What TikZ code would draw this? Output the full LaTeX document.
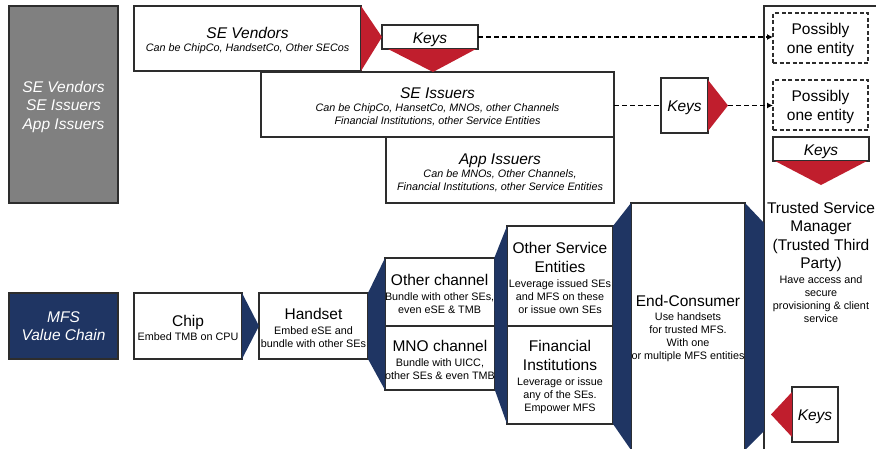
\documentclass[tikz,border=0pt]{standalone}
\usepackage{fontspec}
\setmainfont{Liberation Sans}
\usetikzlibrary{arrows.meta}
\definecolor{darkblue}{RGB}{31,53,99}
\definecolor{keyred}{RGB}{192,30,45}
\definecolor{boxgray}{RGB}{128,128,128}
\definecolor{edgegray}{RGB}{45,45,45}

\newcommand{\hd}{\fontsize{15.5}{18.5}\selectfont}
\newcommand{\sm}{\fontsize{10.8}{13}\selectfont}
% first title line with some air above it
\newcommand{\hdtop}{\hd\rule{0pt}{15.5pt}}

\tikzset{
  box/.style={rectangle, draw=edgegray, line width=1.2pt, fill=white, anchor=north west,
    align=center, inner sep=0pt, outer sep=0pt, font=\sm},
  topbox/.style={box, font=\sm\itshape},
  keybox/.style={box, font=\hd\itshape},
  maybebox/.style={box, dash pattern=on 4pt off 2.5pt, font=\hd},
  keyline/.style={dash pattern=on 5pt off 3pt, line width=1.2pt},
}

\begin{document}
\begin{tikzpicture}[x=1pt, y=-1pt]
    \useasboundingbox (0,0) rectangle (876,448);
    \clip (0,0) rectangle (876,448);

    % left column labels
    \node[box, fill=boxgray, text=white, font=\hd\itshape, minimum width=109pt, minimum height=197pt] (roles) at (9,6)
      {\hdtop SE Vendors\\SE Issuers\\App Issuers};
    \node[box, fill=darkblue, text=white, font=\hd\itshape, minimum width=109pt, minimum height=66pt] (mfs) at (9,293)
      {MFS\\Value Chain};

    % trusted service manager column
    \node[box, minimum width=130pt, minimum height=460pt] (tsm) at (764,6) {};
    \node[font=\hd, align=center, anchor=south, inner sep=0pt] (tsmtext) at (821,272)
      {Trusted Service\\Manager\\(Trusted Third\\Party)};
    \node[font=\sm, align=center, anchor=north, inner sep=0pt] (tsmnote) at (821,275)
      {Have access and\\secure\\provisioning \& client\\service};
    \node[maybebox, minimum width=95pt, minimum height=50pt] (pose1) at (773,13) {\hdtop Possibly\\one entity};
    \node[maybebox, minimum width=95pt, minimum height=50pt] (pose2) at (773,80) {\hdtop Possibly\\one entity};
    \node[keybox, minimum width=96pt, minimum height=24pt] (keys3) at (773,137) {\hdtop Keys};
    \node[keybox, minimum width=46pt, minimum height=55pt] (keys4) at (792,387) {\hdtop Keys};

    % issuers
    \node[topbox, minimum width=227pt, minimum height=65pt] (vend) at (134,6)
      {{\hdtop SE Vendors}\\Can be ChipCo, HandsetCo, Other SECos};
    \node[topbox, minimum width=353pt, minimum height=65pt] (seiss) at (261,72)
      {{\hdtop SE Issuers}\\Can be ChipCo, HansetCo, MNOs, other Channels\\Financial Institutions, other Service Entities};
    \node[topbox, minimum width=228pt, minimum height=66pt] (appiss) at (386,137)
      {{\hdtop App Issuers}\\Can be MNOs, Other Channels,\\Financial Institutions, other Service Entities};
    \node[keybox, minimum width=96pt, minimum height=24pt] (keys1) at (382,25) {\hdtop Keys};
    \node[keybox, minimum width=47pt, minimum height=55pt] (keys2) at (661,78) {\hdtop Keys};
    \coordinate (k2tip) at (728,105.5);

    % value chain
    \node[box, minimum width=108pt, minimum height=66pt] (chip) at (134,293)
      {{\hdtop Chip}\\[1pt]Embed TMB on CPU};
    \node[box, minimum width=109pt, minimum height=66pt] (hand) at (259,293)
      {{\hdtop Handset}\\[2pt]Embed eSE and\\bundle with other SEs};
    \node[box, minimum width=104pt, minimum height=68pt] (othch) at (385,258)
      {{\hdtop Other channel}\\[2pt]Bundle with other SEs,\\even eSE \& TMB};
    \node[box, minimum width=104pt, minimum height=64pt] (mnoch) at (385,326)
      {{\hdtop MNO channel}\\[2pt]Bundle with UICC,\\other SEs \& even TMB};
    \node[box, minimum width=106pt, minimum height=100pt] (ose) at (507,226)
      {{\hdtop Other Service}\\[6pt]{\hd Entities}\\[2pt]Leverage issued SEs\\and MFS on these\\or issue own SEs};
    \node[box, minimum width=106pt, minimum height=98pt] (fin) at (507,326)
      {{\hdtop Financial}\\[6pt]{\hd Institutions}\\[2pt]Leverage or issue\\any of the SEs.\\Empower MFS};
    \node[box, minimum width=114pt, minimum height=247pt] (ec) at (631,203)
      {{\hdtop End-Consumer}\\[1pt]Use handsets\\for trusted MFS.\\With one\\or multiple MFS entities};

    % red key wedges
    \fill[keyred] (vend.north east) -- (keys1.west) -- (vend.south east) -- cycle;
    \fill[keyred] ([xshift=6pt]keys1.south west) -- ([xshift=-2pt]keys1.south east) -- ([xshift=3pt,yshift=-23pt]keys1.south) -- cycle;
    \fill[keyred] ([yshift=-2pt]keys2.north east) -- (k2tip) -- ([yshift=2pt]keys2.south east) -- cycle;
    \fill[keyred] ([xshift=2pt]keys3.south west) -- ([xshift=-2pt]keys3.south east) -- ([yshift=-24pt]keys3.south) -- cycle;
    \fill[keyred] ([yshift=-5pt]keys4.north west) -- ([xshift=-21pt]keys4.west) -- ([yshift=5pt]keys4.south west) -- cycle;

    % blue chain links
    \fill[darkblue] (chip.north east) -- (hand.west) -- (chip.south east) -- cycle;
    \fill[darkblue] (hand.north east) -- (othch.north west) -- (mnoch.south west) -- (hand.south east) -- cycle;
    \fill[darkblue] (othch.north east) -- (ose.north west) -- (fin.south west) -- (mnoch.south east) -- cycle;
    \fill[darkblue] (ose.north east) -- (ec.north west) -- (ec.south west) -- (fin.south east) -- cycle;
    \fill[darkblue] (ec.north east) -- (764,223) -- (764,431) -- (ec.south east) -- cycle;

    % key hand-over lines
    \draw[keyline, -{Latex[length=6pt,width=6pt]}] (keys1.east) -- (keys1.east -| pose1.west);
    \draw[keyline] (keys2.west -| seiss.east) -- (keys2.west);
    \draw[keyline, -{Latex[length=6pt,width=6pt]}] (k2tip) -- (k2tip -| pose2.west);
\end{tikzpicture}
\end{document}
